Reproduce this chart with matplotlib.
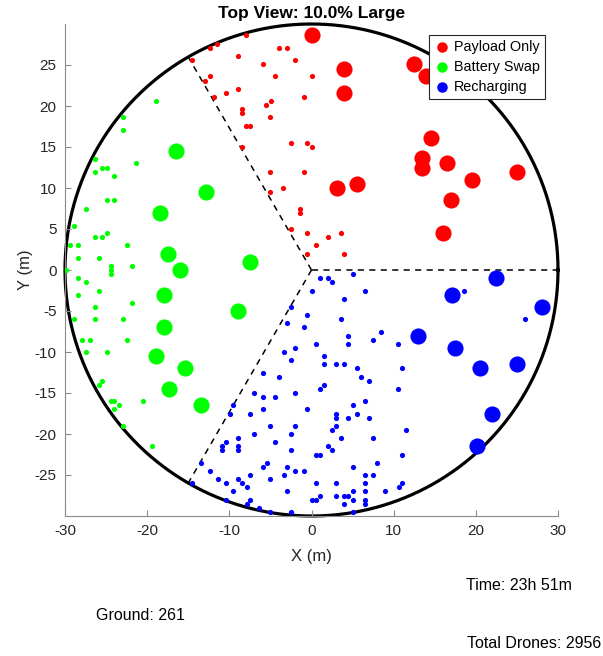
import numpy as np
import matplotlib
matplotlib.use('Agg')
import matplotlib.pyplot as plt

plt.rcParams['font.family'] = ['Liberation Sans', 'DejaVu Sans']
plt.rcParams['axes.unicode_minus'] = False

# Payload Only (red)
red_small_x = [-8.0, -12.4, -11.5, -14.5, -9.0, -4.0, -3.0, -2.0, -5.9, -12.4, -13.0, -4.4, 0.1,
               -10.4, -9.0, -11.9, -0.95, -4.9, -5.5, -8.5, -8.5, -5.0, -8.0, -7.45, -8.5, -2.45,
               -0.5, 0.1, -5.0, -0.95, -5.0, -3.5, -1.4, -1.4, -2.45, -0.5, 2.05, 3.55, 0.55, -0.5, 4.0]
red_small_y = [28.6, 27.1, 27.6, 25.6, 26.1, 27.1, 27.1, 25.6, 25.1, 23.6, 23.0, 23.6, 23.6,
               21.6, 22.1, 21.1, 21.1, 20.6, 20.1, 19.6, 19.1, 18.6, 17.6, 17.6, 15.0, 15.5,
               15.5, 15.0, 12.0, 12.0, 9.5, 10.0, 7.5, 7.0, 5.0, 4.5, 4.0, 4.5, 3.0, 2.0, 2.0]
red_large_x = [0.0, 4.0, 4.0, 12.5, 13.9, 14.5, 13.5, 13.5, 16.5, 25.0, 19.5, 3.1, 5.5, 17.0, 16.0]
red_large_y = [28.6, 24.5, 21.6, 25.1, 23.6, 16.1, 13.6, 12.4, 13.0, 12.0, 11.0, 10.0, 10.5, 8.5, 4.5]

# Battery Swap (green)
green_small_x = [-18.9, -22.9, -22.9, -26.4, -26.4, -25.5, -24.9, -21.4, -24.0, -24.9, -24.0, -27.4,
                 -28.9, -29.4, -28.4, -26.4, -25.5, -24.9, -22.5, -28.4, -25.9, -24.4, -21.9, -29.9,
                 -24.4, -24.4, -28.4, -27.4, -28.4, -25.9, -26.4, -21.9, -28.9, -26.4, -22.9, -27.9,
                 -26.9, -22.5, -27.4, -24.9, -25.5, -25.9, -24.4, -24.0, -23.4, -24.0, -20.5, -22.9,
                 -19.4]
green_small_y = [20.6, 18.6, 17.1, 13.5, 12.0, 12.5, 12.5, 13.0, 11.5, 8.5, 8.5, 7.5,
                 5.4, 3.0, 3.0, 4.0, 4.0, 4.5, 3.0, 1.5, 1.5, 0.5, 0.5, 0.0,
                 0.0, -0.5, -1.0, -1.5, -3.0, -2.5, -4.5, -4.0, -6.0, -6.0, -6.0, -8.5,
                 -8.5, -8.5, -10.0, -10.0, -13.5, -14.0, -16.0, -16.0, -16.5, -17.0, -16.0, -19.0,
                 -21.5]
green_large_x = [-16.5, -12.9, -18.4, -17.5, -16.0, -7.5, -18.0, -9.0, -18.0, -18.9, -15.4, -17.4, -13.5]
green_large_y = [14.5, 9.5, 7.0, 2.0, 0.0, 1.0, -3.0, -5.0, -7.0, -10.5, -12.0, -14.5, -16.5]

# Recharging (blue)
blue_small_x = [1.0, 2.05, 2.5, 5.0, 0.1, 6.5, 4.0, -2.45, -0.5, 3.55, -2.95, -0.95, 8.5, 4.5,
                7.5, 4.5, 0.55, 10.5, -2.0, -3.4, 1.55, -2.45, 1.55, 3.0, 4.0, 5.5, 11.0, -5.9,
                6.0, -3.95, 7.0, 1.55, 1.0, 10.5, -6.95, -2.0, -5.9, -4.4, 6.5, -9.5, 5.0, -5.9,
                -0.5, -9.95, -7.45, 3.0, 5.5, 3.0, 4.5, 7.0, -5.0, -2.0, 3.0, 2.5, 11.5, -6.95,
                -2.45, -8.95, 3.55, 7.5, -10.4, -4.4, -10.9, -8.95, 2.05, -10.9, -8.95, -2.45, 2.5,
                0.55, 1.0, 11.0, -13.45, -5.45, 8.0, -5.9, -2.95, 5.0, -12.4, -2.0, -0.95, -7.45,
                -3.4, 6.5, 7.5, -11.4, -8.95, -5.0, -14.5, -10.4, -8.45, 0.55, 3.0, 6.5, 11.0,
                -7.9, 10.6, -9.5, -2.95, 5.0, 6.5, 9.0, 1.0, 3.0, 4.0, 4.5, -10.4, -7.45, 0.1,
                0.55, 5.0, 6.5, -7.9, 4.0, 6.5, -6.4, -5.0, -2.45, 5.0, 18.6, 26.0]
blue_small_y = [-1.0, -1.0, -1.5, -0.5, -2.5, -2.5, -3.5, -4.5, -5.5, -6.0, -6.5, -7.0, -7.5, -8.0,
                -8.5, -9.0, -9.0, -9.0, -9.5, -10.0, -10.5, -11.0, -11.5, -11.5, -11.5, -12.0, -12.0, -12.5,
                -13.0, -13.0, -13.5, -14.0, -14.5, -14.5, -15.0, -15.0, -15.5, -15.5, -16.0, -16.5, -16.5, -17.0,
                -17.0, -17.5, -17.5, -17.5, -17.5, -18.0, -18.0, -18.0, -19.0, -19.0, -19.0, -19.5, -19.5, -20.0,
                -20.0, -20.5, -20.5, -20.5, -21.0, -21.0, -21.5, -21.5, -21.5, -22.0, -22.0, -22.0, -22.0,
                -22.5, -22.5, -22.5, -23.5, -23.5, -23.5, -24.0, -24.0, -24.0, -24.5, -24.5, -24.5, -25.0,
                -25.0, -25.0, -25.0, -25.5, -25.5, -25.5, -26.0, -26.0, -26.0, -26.0, -26.0, -26.0, -26.0,
                -26.5, -26.5, -27.0, -27.0, -27.0, -27.0, -27.0, -27.5, -27.5, -27.5, -27.5, -28.0, -28.0, -28.0,
                -28.0, -28.0, -28.0, -28.5, -28.5, -28.5, -29.0, -29.5, -29.5, -29.5, -2.5, -6.0]
blue_large_x = [22.5, 17.1, 28.0, 13.0, 17.5, 20.5, 25.0, 22.0, 20.1]
blue_large_y = [-1.0, -3.0, -4.5, -8.0, -9.5, -12.0, -11.5, -17.5, -21.5]

radius = 30
sector_angles = [0, 120, 240]
title = 'Top View: 10.0% Large'
time_label = 'Time: 23h 51m'
ground_label = 'Ground: 261'
total_label = 'Total Drones: 2956'

fig = plt.figure(figsize=(6.03, 6.56), dpi=100)
ax = fig.add_axes([65 / 603, 140 / 656, 493 / 603, 492 / 656])

# boundary circle and sector dividers
th = np.linspace(0, 2 * np.pi, 400)
ax.plot(radius * np.cos(th), radius * np.sin(th), color='k', lw=2.3, zorder=1, clip_on=False)
for a in sector_angles:
    r = np.deg2rad(a)
    ax.plot([0, radius * np.cos(r)], [0, radius * np.sin(r)], 'k--', lw=1.1,
            dashes=(4, 3.5), zorder=1)

small, large = 14, 135
ax.scatter(red_small_x, red_small_y, s=small, c='#ff0000', lw=0, zorder=3)
ax.scatter(green_small_x, green_small_y, s=small, c='#00ff00', lw=0, zorder=3)
ax.scatter(blue_small_x, blue_small_y, s=small, c='#0000ff', lw=0, zorder=3)
ax.scatter(red_large_x, red_large_y, s=large, c='#ff0000', lw=0, zorder=3, label='Payload Only')
ax.scatter(green_large_x, green_large_y, s=large, c='#00ff00', lw=0, zorder=3, label='Battery Swap')
ax.scatter(blue_large_x, blue_large_y, s=large, c='#0000ff', lw=0, zorder=3, label='Recharging')

ax.set_xlim(-30, 30)
ax.set_ylim(-30, 30)
ax.set_xticks(np.arange(-30, 31, 10))
ax.set_yticks(np.arange(-25, 26, 5))
for side in ['top', 'right']:
    ax.spines[side].set_visible(False)
for side in ['left', 'bottom']:
    ax.spines[side].set_color('#8a8a8a')
    ax.spines[side].set_linewidth(0.8)
ax.tick_params(direction='in', length=4, width=0.8, color='#8a8a8a',
               labelsize=11, labelcolor='#262626', pad=6)

ax.set_xlabel('X (m)', fontsize=12, color='#262626', labelpad=8)
ax.set_ylabel('Y (m)', fontsize=12, color='#262626', labelpad=1)
ax.set_title(title, fontsize=12.5, fontweight='bold', pad=4)

leg = ax.legend(loc='upper right', bbox_to_anchor=(0.988, 0.992), fontsize=10.4,
                markerscale=0.65, handletextpad=0.2, borderpad=0.35, labelspacing=0.4,
                handlelength=1.2, fancybox=False, framealpha=1)
leg.get_frame().set_edgecolor('#262626')
leg.get_frame().set_linewidth(0.8)

fig.text(466 / 603, 1 - 586 / 656, time_label, fontsize=11.5, va='center', ha='left')
fig.text(96 / 603, 1 - 615 / 656, ground_label, fontsize=11.5, va='center', ha='left')
fig.text(467 / 603, 1 - 644 / 656, total_label, fontsize=11.5, va='center', ha='left')

fig.savefig('out.png', dpi=100)
